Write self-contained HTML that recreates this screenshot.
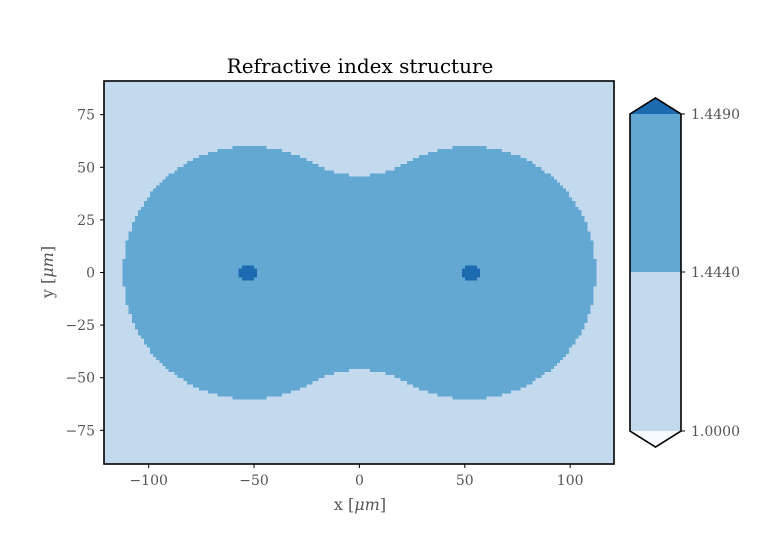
<!DOCTYPE html>
<html><head><meta charset="utf-8"><style>
body{margin:0;background:#fff;}
svg text{font-family:"DejaVu Serif","Liberation Serif",serif;}
</style></head><body>
<svg id="c" width="776" height="532" viewBox="0 0 776 532" xmlns="http://www.w3.org/2000/svg">
<text x="360" y="73" text-anchor="middle" font-size="20" fill="#000">Refractive index structure</text>
<g id="plot"></g>
<g id="axes"></g>
<g id="cbar"></g>
</svg>
<script>
const xTicks=[-100,-50,0,50,100];
const yTicks=[-75,-50,-25,0,25,50,75];
const lobeCentersX=[-52,52];
const lobeRadius=[60,60];
const coreCentersX=[-53,53];
const coreRadius=[4.3,4.3];
const neckHalfHeight=[46];
const cbarTicks=[1.4490,1.4440,1.0000];
const cbarColors=["#c3d9ed","#63a8d3","#1c6aaf","#f7fbff"];
const xMin=-121.2,xMax=120.8,yMin=-91,yMax=91;
const L=104,R=614,T=81,B=464;
const sx=v=>L+(v-xMin)/(xMax-xMin)*(R-L);
const sy=v=>B-(v-yMin)/(yMax-yMin)*(B-T);
const NS="http://www.w3.org/2000/svg";
function mk(tag,attrs,parent){const e=document.createElementNS(NS,tag);for(const k in attrs)e.setAttribute(k,attrs[k]);parent.appendChild(e);return e;}
const plot=document.getElementById('plot'),axes=document.getElementById('axes'),cb=document.getElementById('cbar');
const bg=mk('rect',{x:L,y:T,width:R-L,height:B-T,fill:cbarColors[0]},plot);


const cell=1.45;
function region(x,y){
  for(let i=0;i<coreCentersX.length;i++){const dx=x-coreCentersX[i];if(dx*dx+y*y<=coreRadius[i]*coreRadius[i])return 2;}
  for(let i=0;i<lobeCentersX.length;i++){const dx=x-lobeCentersX[i];if(dx*dx+y*y<=lobeRadius[i]*lobeRadius[i])return 1;}
  if(Math.abs(x)<22 && Math.abs(y)<=neckHalfHeight[0]+0.012*x*x)return 1;
  return 0;
}
const gi=mk('g',{'shape-rendering':'crispEdges'},plot);


const n0=Math.ceil(-xMax/cell)-1, ny=Math.ceil(yMax/cell)+1;
for(let j=-ny;j<=ny;j++){
  const y=j*cell-cell/2;
  let run=null;
  for(let i=n0;i<=-n0+1;i++){
    const x=i*cell-cell/2;
    const r=(i<=-n0)?region(x+cell/2,y+cell/2):0;
    if(run&&run.r!==r){
      if(run.r>0){mk('rect',{x:sx(run.x0),y:sy(y+cell),width:sx(x)-sx(run.x0)+0.4,height:sy(y)-sy(y+cell)+0.4,fill:cbarColors[run.r]},gi);}
      run=null;
    }
    if(!run)run={r:r,x0:x};
  }
}
mk('rect',{x:0,y:0,width:L,height:532,fill:'#fff'},plot);
mk('rect',{x:R,y:0,width:14,height:532,fill:'#fff'},plot);
const fr=mk('rect',{x:L,y:T,width:R-L,height:B-T,fill:'none',stroke:'#000','stroke-width':1.6},axes);


xTicks.forEach(t=>{
  const x=sx(t);
  mk('line',{x1:x,y1:B,x2:x,y2:B+4,stroke:'#000'},axes);
  const tx=mk('text',{x:x,y:B+21,'text-anchor':'middle','font-size':14,fill:'#555'},axes);
  tx.textContent=(t<0?'\u2212':'')+Math.abs(t);
  
  
});
yTicks.forEach(t=>{
  const y=sy(t);
  mk('line',{x1:L-4,y1:y,x2:L,y2:y,stroke:'#000'},axes);
  const tx=mk('text',{x:L-9,y:y+5,'text-anchor':'end','font-size':14,fill:'#555'},axes);
  tx.textContent=(t<0?'\u2212':'')+Math.abs(t);
  
  
});
const xl=mk('text',{x:360,y:510,'text-anchor':'middle','font-size':16,fill:'#555'},axes);
xl.innerHTML='x [<tspan font-style="italic">μm</tspan>]';


const yl=mk('text',{x:0,y:0,'text-anchor':'middle','font-size':16,fill:'#555',transform:'translate(53,272) rotate(-90)'},axes);
yl.innerHTML='y [<tspan font-style="italic">μm</tspan>]';


const cL=630,cR=681,cT=114,cM=272,cB=431,cMid=(cL+cR)/2;
const s1=mk('rect',{x:cL,y:cM,width:cR-cL,height:cB-cM,fill:cbarColors[0]},cb);


const s2=mk('rect',{x:cL,y:cT,width:cR-cL,height:cM-cT,fill:cbarColors[1]},cb);


const up=mk('polygon',{points:`${cL},${cT} ${cMid},98 ${cR},${cT}`,fill:cbarColors[2]},cb);


const dn=mk('polygon',{points:`${cL},${cB} ${cMid},447 ${cR},${cB}`,fill:cbarColors[3]},cb);


mk('polygon',{points:`${cL},${cT} ${cMid},98 ${cR},${cT} ${cR},${cB} ${cMid},447 ${cL},${cB}`,fill:'none',stroke:'#000','stroke-width':1.6},cb);
const cy=[cT,cM,cB];
cbarTicks.forEach((t,i)=>{
  mk('line',{x1:cR,y1:cy[i],x2:cR+4,y2:cy[i],stroke:'#000'},cb);
  const tx=mk('text',{x:cR+10,y:cy[i]+5,'font-size':14,fill:'#555'},cb);
  tx.textContent=t.toFixed(4);
  
  
});
</script>
</body></html>
